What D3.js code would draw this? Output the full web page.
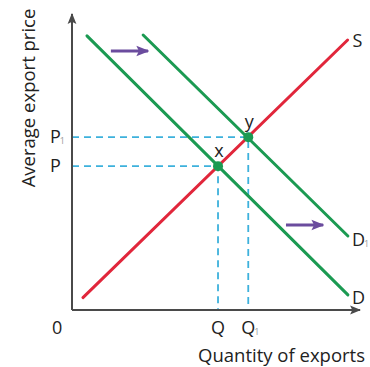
<!DOCTYPE html>
<html>
<head>
<meta charset="utf-8">
<script src="https://cdn.jsdelivr.net/npm/d3@7"></script>
<style>
  body { margin: 0; background: #fff; }
  svg { display: block; font-family: "Open Sans", sans-serif; }
</style>
</head>
<body>
<div id="chart"></div>
<script>
// curves in value units (0-100 on both axes)
const supply = [[3.8, 4.2], [95.7, 91.2]];
const demand = [[5.2, 92.6], [95.8, 5.1]];
const demand1 = [[24.7, 92.9], [95.8, 25.0]];
const equilibria = [
  { name: "x", q: 50.7, p: 48.6, qLabel: "Q", pLabel: "P", sub: "" },
  { name: "y", q: 61.2, p: 58.4, qLabel: "Q", pLabel: "P", sub: "1" }
];
const shiftArrows = [[[13.5, 87.5], [26.4, 87.5]], [[74.3, 28.7], [87.2, 28.7]]];

const width = 370, height = 367;
const GREEN = "#1b9a52", RED = "#e1263b", BLUE = "#3db1dc", PURPLE = "#6b4c9e", AXIS = "#4a4a4a";
const textColor = "#222";

const svg = d3.select("#chart").append("svg")
  .attr("width", width).attr("height", height);

const x = d3.scaleLinear().domain([0, 100]).range([72, 360]);
const y = d3.scaleLinear().domain([0, 100]).range([310, 14]);

const defs = svg.append("defs");
function marker(id, color, size) {
  defs.append("marker")
    .attr("id", id)
    .attr("viewBox", "0 0 10 10")
    .attr("refX", 9).attr("refY", 5)
    .attr("markerWidth", size).attr("markerHeight", size)
    .attr("markerUnits", "userSpaceOnUse")
    .attr("orient", "auto")
    .append("path")
    .attr("d", "M0,1 L10,5 L0,9 L2,5 Z")
    .attr("fill", color);
}
marker("axisArrow", AXIS, 11);
marker("shiftArrow", PURPLE, 13);

const line = d3.line().x(d => x(d[0])).y(d => y(d[1]));

// dashed guides
equilibria.forEach(e => {
  svg.append("path")
    .attr("d", line([[0, e.p], [e.q, e.p], [e.q, 0]]))
    .attr("fill", "none")
    .attr("stroke", BLUE)
    .attr("stroke-width", 1.8)
    .attr("stroke-dasharray", "7,5");
});

// axes
svg.append("path")
  .attr("d", line([[0, 0], [100, 0]]))
  .attr("stroke", AXIS).attr("stroke-width", 2)
  .attr("marker-end", "url(#axisArrow)");
svg.append("path")
  .attr("d", line([[0, 0], [0, 100]]))
  .attr("stroke", AXIS).attr("stroke-width", 2)
  .attr("marker-end", "url(#axisArrow)");

// curves
[[demand, GREEN], [demand1, GREEN], [supply, RED]].forEach(([pts, c]) => {
  svg.append("path")
    .attr("d", line(pts))
    .attr("fill", "none")
    .attr("stroke", c)
    .attr("stroke-width", 3)
    .attr("stroke-linecap", "round");
});

// shift arrows
shiftArrows.forEach(a => {
  svg.append("path")
    .attr("d", line(a))
    .attr("stroke", PURPLE)
    .attr("stroke-width", 3)
    .attr("marker-end", "url(#shiftArrow)");
});

// equilibrium points
svg.selectAll("circle.eq").data(equilibria).join("circle")
  .attr("class", "eq")
  .attr("cx", d => x(d.q)).attr("cy", d => y(d.p))
  .attr("r", 5).attr("fill", GREEN);

svg.selectAll("text.eqname").data(equilibria).join("text")
  .attr("class", "eqname")
  .attr("x", d => x(d.q) + 1).attr("y", d => y(d.p) - 9)
  .attr("text-anchor", "middle")
  .attr("font-size", 18).attr("fill", textColor)
  .text(d => d.name);

function subLabel(sel, main, sub) {
  sel.append("tspan").text(main);
  if (sub) sel.append("tspan").attr("font-size", 9).attr("fill", "#999")
    .attr("dx", -1).attr("dy", 1).text(sub);
}

// P and Q labels
equilibria.forEach(e => {
  subLabel(svg.append("text")
    .attr("x", x(0) - 22).attr("y", y(e.p) + 6)
    .attr("font-size", 18).attr("fill", textColor), e.pLabel, e.sub);
  subLabel(svg.append("text")
    .attr("x", x(e.q) - 7).attr("y", 334)
    .attr("font-size", 18).attr("fill", textColor), e.qLabel, e.sub);
});

svg.append("text").attr("x", 52).attr("y", 334)
  .attr("font-size", 18).attr("fill", textColor).text("0");

// curve labels
svg.append("text").attr("x", x(supply[1][0]) + 5).attr("y", y(supply[1][1]) + 7)
  .attr("font-size", 18).attr("fill", textColor).text("S");
svg.append("text").attr("x", x(demand[1][0]) + 4).attr("y", y(demand[1][1]) + 9)
  .attr("font-size", 18).attr("fill", textColor).text("D");
subLabel(svg.append("text").attr("x", x(demand1[1][0]) + 4).attr("y", y(demand1[1][1]) + 10)
  .attr("font-size", 18).attr("fill", textColor), "D", "1");

// axis titles
svg.append("text")
  .attr("x", 365).attr("y", 362)
  .attr("text-anchor", "end")
  .attr("font-size", 18.5).attr("fill", textColor)
  .text("Quantity of exports");
svg.append("text")
  .attr("transform", "translate(35,98) rotate(-90)")
  .attr("text-anchor", "middle")
  .attr("font-size", 18.5).attr("fill", textColor)
  .text("Average export price");
</script>
</body>
</html>
